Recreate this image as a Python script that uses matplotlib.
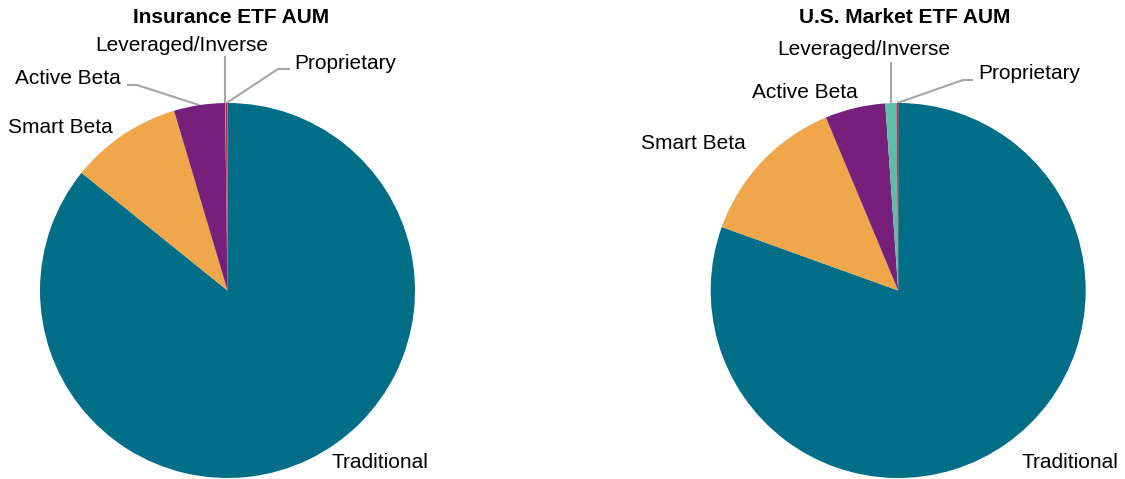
import numpy as np
import matplotlib
matplotlib.use("Agg")
import matplotlib.pyplot as plt

plt.rcParams['font.family'] = ['Liberation Sans', 'DejaVu Sans']

categories = ["Traditional", "Smart Beta", "Active Beta", "Leveraged/Inverse", "Proprietary"]
insurance_aum = [85.8, 9.6, 4.4, 0.03, 0.17]
market_aum = [80.5, 13.2, 5.2, 0.95, 0.15]
titles = ["Insurance ETF AUM", "U.S. Market ETF AUM"]

colors = ["#006E87", "#F0A64A", "#76207C", "#5BBFA6", "#D6204F"]
LEADER = "#A6A6A6"
FS = 15

W, H = 1125, 479
fig = plt.figure(figsize=(W / 100, H / 100), dpi=100)
ax = fig.add_axes([0, 0, 1, 1])

R = 187.5
centers = [(227.5, 290.5), (898.2, 290.5)]
title_x = [231, 905]

# label layout per pie: text position (pixel coords, y downward), alignment, optional leader elbow
layouts = [
    {
        "Traditional": dict(xy=(331, 463), ha="left"),
        "Smart Beta": dict(xy=(8, 127), ha="left"),
        "Active Beta": dict(xy=(121, 78), ha="right", elbow=[(137, 85), (127, 85)]),
        "Leveraged/Inverse": dict(xy=(181.5, 45), ha="center", elbow=[(225.7, 56)], vertical=True),
        "Proprietary": dict(xy=(294, 63), ha="left", elbow=[(278, 69), (290, 69)]),
    },
    {
        "Traditional": dict(xy=(1021, 463), ha="left"),
        "Smart Beta": dict(xy=(641, 143), ha="left"),
        "Active Beta": dict(xy=(752, 92), ha="left"),
        "Leveraged/Inverse": dict(xy=(864, 49), ha="center", elbow=[(891, 62)], vertical=True),
        "Proprietary": dict(xy=(978, 73), ha="left", elbow=[(963, 80), (973, 80)]),
    },
]

for values, (cx, cy), title, tx, layout in zip(
        [insurance_aum, market_aum], centers, titles, title_x, layouts):
    wedges, _ = ax.pie(values, colors=colors, startangle=90, counterclock=False,
                       center=(cx, H - cy), radius=R,
                       wedgeprops=dict(linewidth=0))
    ax.text(tx, H - 17, title, ha="center", va="center", fontsize=FS,
            fontweight="bold", color="black")
    for name, w in zip(categories, wedges):
        spec = layout[name]
        lx, ly = spec["xy"]
        ax.text(lx, H - ly, name, ha=spec["ha"], va="center", fontsize=FS, color="black")
        if "elbow" in spec:
            mid = np.deg2rad((w.theta1 + w.theta2) / 2)
            sx = cx + R * np.cos(mid)
            sy = cy - R * np.sin(mid)
            if spec.get("vertical"):
                ex, ey = spec["elbow"][0]
                xs = [sx, sx]
                ys = [sy, ey]
            else:
                xs = [sx] + [p[0] for p in spec["elbow"]]
                ys = [sy] + [p[1] for p in spec["elbow"]]
            ax.plot(xs, [H - y for y in ys], color=LEADER, lw=1.5,
                    solid_capstyle="butt", zorder=0)

ax.set_xlim(0, W)
ax.set_ylim(0, H)
ax.set_aspect("auto")
ax.axis("off")

fig.savefig("out.png", dpi=100, facecolor="white")
